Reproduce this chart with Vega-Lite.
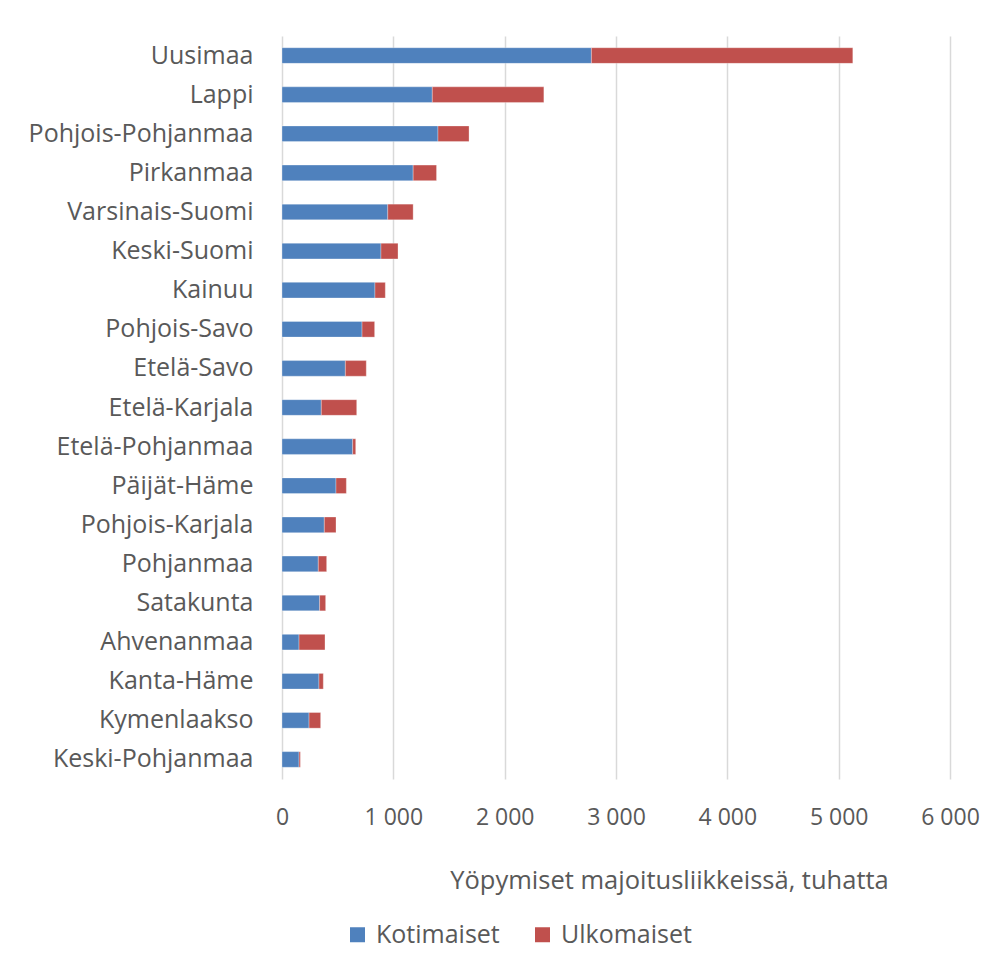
{
  "$schema": "https://vega.github.io/schema/vega-lite/v6.json",
  "autosize": "none",
  "width": 668,
  "height": 743,
  "padding": {"left": 282, "top": 36, "right": 50, "bottom": 195},
  "background": "white",
  "config": {
    "view": {"stroke": null},
    "font": "Open Sans"
  },
  "data": {
    "values": [
      {"region": "Uusimaa", "type": "Kotimaiset", "value": 2779},
      {"region": "Uusimaa", "type": "Ulkomaiset", "value": 2348},
      {"region": "Lappi", "type": "Kotimaiset", "value": 1350},
      {"region": "Lappi", "type": "Ulkomaiset", "value": 1002},
      {"region": "Pohjois-Pohjanmaa", "type": "Kotimaiset", "value": 1401},
      {"region": "Pohjois-Pohjanmaa", "type": "Ulkomaiset", "value": 279},
      {"region": "Pirkanmaa", "type": "Kotimaiset", "value": 1178},
      {"region": "Pirkanmaa", "type": "Ulkomaiset", "value": 210},
      {"region": "Varsinais-Suomi", "type": "Kotimaiset", "value": 950},
      {"region": "Varsinais-Suomi", "type": "Ulkomaiset", "value": 228},
      {"region": "Keski-Suomi", "type": "Kotimaiset", "value": 889},
      {"region": "Keski-Suomi", "type": "Ulkomaiset", "value": 153},
      {"region": "Kainuu", "type": "Kotimaiset", "value": 835},
      {"region": "Kainuu", "type": "Ulkomaiset", "value": 93},
      {"region": "Pohjois-Savo", "type": "Kotimaiset", "value": 719},
      {"region": "Pohjois-Savo", "type": "Ulkomaiset", "value": 113},
      {"region": "Etelä-Savo", "type": "Kotimaiset", "value": 569},
      {"region": "Etelä-Savo", "type": "Ulkomaiset", "value": 188},
      {"region": "Etelä-Karjala", "type": "Kotimaiset", "value": 353},
      {"region": "Etelä-Karjala", "type": "Ulkomaiset", "value": 318},
      {"region": "Etelä-Pohjanmaa", "type": "Kotimaiset", "value": 635},
      {"region": "Etelä-Pohjanmaa", "type": "Ulkomaiset", "value": 27},
      {"region": "Päijät-Häme", "type": "Kotimaiset", "value": 485},
      {"region": "Päijät-Häme", "type": "Ulkomaiset", "value": 93},
      {"region": "Pohjois-Karjala", "type": "Kotimaiset", "value": 380},
      {"region": "Pohjois-Karjala", "type": "Ulkomaiset", "value": 105},
      {"region": "Pohjanmaa", "type": "Kotimaiset", "value": 326},
      {"region": "Pohjanmaa", "type": "Ulkomaiset", "value": 75},
      {"region": "Satakunta", "type": "Kotimaiset", "value": 338},
      {"region": "Satakunta", "type": "Ulkomaiset", "value": 54},
      {"region": "Ahvenanmaa", "type": "Kotimaiset", "value": 153},
      {"region": "Ahvenanmaa", "type": "Ulkomaiset", "value": 233},
      {"region": "Kanta-Häme", "type": "Kotimaiset", "value": 332},
      {"region": "Kanta-Häme", "type": "Ulkomaiset", "value": 39},
      {"region": "Kymenlaakso", "type": "Kotimaiset", "value": 243},
      {"region": "Kymenlaakso", "type": "Ulkomaiset", "value": 104},
      {"region": "Keski-Pohjanmaa", "type": "Kotimaiset", "value": 153},
      {"region": "Keski-Pohjanmaa", "type": "Ulkomaiset", "value": 12}
    ]
  },
  "mark": {"type": "bar", "stroke": "white", "strokeWidth": 0.5, "strokeOpacity": 0.6},
  "encoding": {
    "y": {
      "field": "region",
      "type": "nominal",
      "sort": null,
      "scale": {"paddingInner": 0.6, "paddingOuter": 0.3},
      "axis": {
        "title": null,
        "domain": false,
        "ticks": false,
        "labelPadding": 29,
        "labelFontSize": 25,
        "labelColor": "#595959",
        "labelLimit": 300
      }
    },
    "x": {
      "field": "value",
      "type": "quantitative",
      "stack": "zero",
      "scale": {"domain": [0, 6000], "nice": false},
      "axis": {
        "values": [0, 1000, 2000, 3000, 4000, 5000, 6000],
        "labelExpr": "replace(format(datum.value, ','), ',', ' ')",
        "title": "Yöpymiset majoitusliikkeissä, tuhatta",
        "titleFontSize": 25.5,
        "titleFontWeight": "normal",
        "titleColor": "#595959",
        "titleX": 387,
        "titleY": 101,
        "titleAlign": "center",
        "titleBaseline": "middle",
        "domain": false,
        "ticks": false,
        "grid": true,
        "gridColor": "#d9d9d9",
        "gridWidth": 1.5,
        "labelFontSize": 23,
        "labelColor": "#595959",
        "labelPadding": 38,
        "labelBaseline": "middle",
        "labelFlush": false
      }
    },
    "color": {
      "field": "type",
      "type": "nominal",
      "scale": {"domain": ["Kotimaiset", "Ulkomaiset"], "range": ["#4f81bd", "#c0504d"]},
      "legend": {
        "title": null,
        "orient": "none",
        "direction": "horizontal",
        "legendX": 63,
        "legendY": 886,
        "symbolType": "square",
        "symbolSize": 225,
        "symbolStrokeWidth": 0,
        "labelFontSize": 25,
        "labelColor": "#595959",
        "labelOffset": 6,
        "columnPadding": 30
      }
    },
    "order": {"field": "type", "sort": "ascending"}
  }
}
